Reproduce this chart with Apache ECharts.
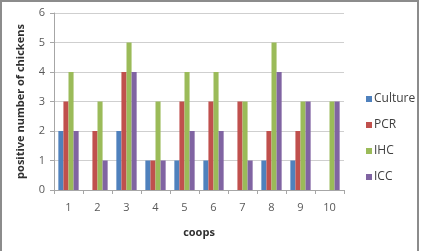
<!DOCTYPE html>
<html>
<head>
<meta charset="utf-8">
<script src="https://cdn.jsdelivr.net/npm/echarts@6/dist/echarts.min.js"></script>
<style>
  html, body { margin: 0; padding: 0; background: #fff; }
  #chart { width: 427px; height: 251px; }
</style>
</head>
<body>
<div id="chart"></div>
<script>
// coops on the x axis
const coops = ["1", "2", "3", "4", "5", "6", "7", "8", "9", "10"];

// positive chickens per method
const culture = [2, 0, 2, 1, 1, 1, 0, 1, 1, 0];
const pcr = [3, 2, 4, 1, 3, 3, 3, 2, 2, 0];
const ihc = [4, 3, 5, 3, 4, 4, 3, 5, 3, 3];
const icc = [2, 1, 4, 1, 2, 2, 1, 4, 3, 3];

const FONT = "'Open Sans', 'Liberation Sans', sans-serif";

const chartDom = document.getElementById("chart");
const myChart = echarts.init(chartDom, null, { renderer: "canvas" });

function bar(name, data, color) {
  return {
    name,
    type: "bar",
    data,
    barGap: "0%",
    barCategoryGap: "30%",
    itemStyle: { color },
  };
}

const option = {
  animation: false,
  backgroundColor: "#fff",
  graphic: [
    {
      type: "rect",
      shape: { x: 1, y: 1, width: 417, height: 262 },
      style: { fill: "none", stroke: "#8c8c8c", lineWidth: 2 },
      silent: true,
    },
  ],
  grid: { left: 54, right: 83, top: 13, bottom: 61 },
  legend: {
    orient: "vertical",
    left: 361,
    top: 88,
    itemWidth: 6,
    itemHeight: 6,
    itemGap: 14,
    icon: "rect",
    textStyle: { fontFamily: FONT, fontSize: 12, color: "#404040", padding: [0, 0, 0, -3] },
    data: ["Culture", "PCR", "IHC", "ICC"],
  },
  xAxis: {
    type: "category",
    data: coops,
    name: "coops",
    nameLocation: "middle",
    nameGap: 37,
    nameTextStyle: { fontFamily: FONT, fontSize: 11, fontWeight: "bold", color: "#303030" },
    axisLine: { lineStyle: { color: "#a6a6a6" } },
    axisTick: { show: true, length: 4, lineStyle: { color: "#a6a6a6" } },
    axisLabel: { fontFamily: FONT, fontSize: 11, color: "#595959", margin: 12 },
  },
  yAxis: {
    type: "value",
    min: 0,
    max: 6,
    interval: 1,
    name: "positive number of chickens",
    nameLocation: "middle",
    nameGap: 28,
    nameTextStyle: { fontFamily: FONT, fontSize: 11, fontWeight: "bold", color: "#303030" },
    axisLine: { show: true, lineStyle: { color: "#a6a6a6" } },
    axisTick: { show: true, length: 4, lineStyle: { color: "#a6a6a6" } },
    axisLabel: { fontFamily: FONT, fontSize: 11, color: "#595959", margin: 9 },
    splitLine: { lineStyle: { color: "#cfcfcf" } },
  },
  series: [
    bar("Culture", culture, "#4f81bd"),
    bar("PCR", pcr, "#c0504d"),
    bar("IHC", ihc, "#9bbb59"),
    bar("ICC", icc, "#8064a2"),
  ],
};

myChart.setOption(option);
</script>
</body>
</html>
